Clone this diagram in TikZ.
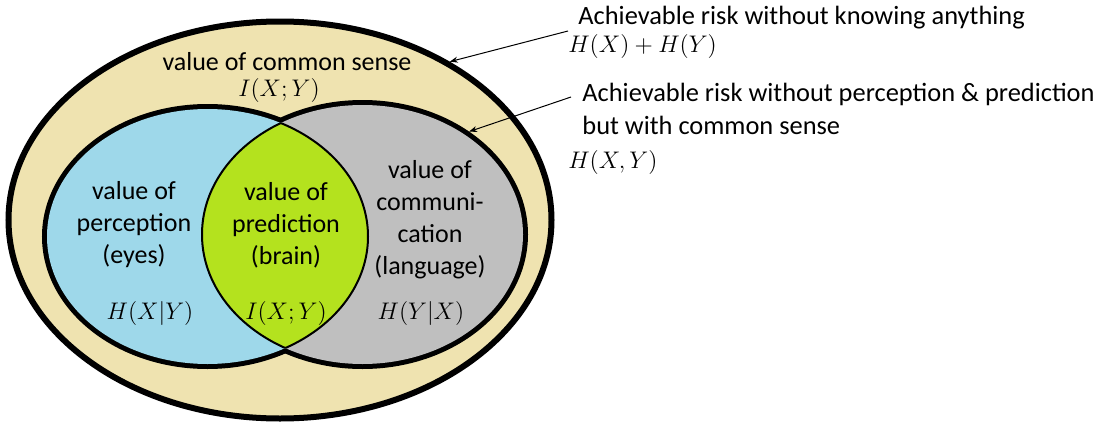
\documentclass[tikz,border=0pt]{standalone}
\usepackage{fontspec}
\setmainfont{Carlito}
\usetikzlibrary{shapes.geometric,arrows.meta}

\definecolor{sand}{RGB}{239,227,176}
\definecolor{sky}{RGB}{158,216,234}
\definecolor{stone}{RGB}{191,191,191}
\definecolor{lime}{RGB}{180,226,30}

\begin{document}
\begin{tikzpicture}[x=0.5pt,y=-0.5pt,font=\fontsize{13}{16}\selectfont]
    \tikzstyle{blob}=[ellipse,inner sep=0pt]
    \tikzstyle{lbl}=[align=center,inner sep=0pt]
    \tikzstyle{note}=[anchor=west,inner sep=0pt,font=\fontsize{13.2}{16}\selectfont]
    \tikzstyle{ptr}=[-{Stealth[length=4pt,width=3pt]},line width=0.5pt]

    \useasboundingbox (0,0) rectangle (1104,423);

    % outer region
    \node[blob,draw,line width=3pt,fill=sand,minimum width=271.5pt,minimum height=198.5pt] (common) at (280,220) {};

    % thick outlines first, the fills then hide their inner halves
    \node[blob,draw,line width=5pt,minimum width=160.5pt,minimum height=127.5pt] (eyes) at (207.5,236.5) {};
    \node[blob,draw,line width=5pt,minimum width=160.5pt,minimum height=129.5pt] (lang) at (362.5,234.5) {};
    \node[blob,fill=sky,minimum width=160.5pt,minimum height=127.5pt] (eyesfill) at (eyes) {};
    \node[blob,fill=stone,minimum width=160.5pt,minimum height=129.5pt] (langfill) at (lang) {};

    % overlap
    \begin{scope}
      \clip (eyes.center) ellipse [x radius=80.25pt,y radius=63.75pt];
      \node[blob,draw,fill=lime,line width=1pt,minimum width=160.5pt,minimum height=129.5pt] (lens) at (lang) {};
    \end{scope}
    \begin{scope}
      \clip (lang.center) ellipse [x radius=80.25pt,y radius=64.75pt];
      \node[blob,draw,line width=1pt,minimum width=160.5pt,minimum height=127.5pt] (lensedge) at (eyes) {};
    \end{scope}

    \node[lbl] (tcommon) at (287,62) {value of common sense};
    \node[lbl] (icommon) at (279,90) {$I(X;Y)$};
    \node[lbl] (teyes) at (134,225) {value of\\perception\\(eyes)};
    \node[lbl] (tbrain) at (286,225) {value of\\prediction\\(brain)};
    \node[lbl] (tlang) at (430,220) {value of\\communi-\\cation\\(language)};
    \node[lbl] (heyes) at (150,313) {$H(X|Y)$};
    \node[lbl] (ibrain) at (286,313) {$I(X;Y)$};
    \node[lbl] (hlang) at (421,313) {$H(Y|X)$};

    \node[note] (n1) at (578,18) {Achievable risk without knowing anything};
    \node[note] (n1m) at (568,47) {$H(X)+H(Y)$};
    \node[note] (n2) at (582,94) {Achievable risk without perception \& prediction};
    \node[note] (n2b) at (582,125) {but with common sense};
    \node[note] (n2m) at (568,162) {$H(X,Y)$};

    \coordinate (a1) at (568,31);
    \coordinate (a2) at (571,97);
    \draw[ptr] (a1) -- (common.43);
    \draw[ptr] (a2) -- (lang.44);
\end{tikzpicture}
\end{document}
